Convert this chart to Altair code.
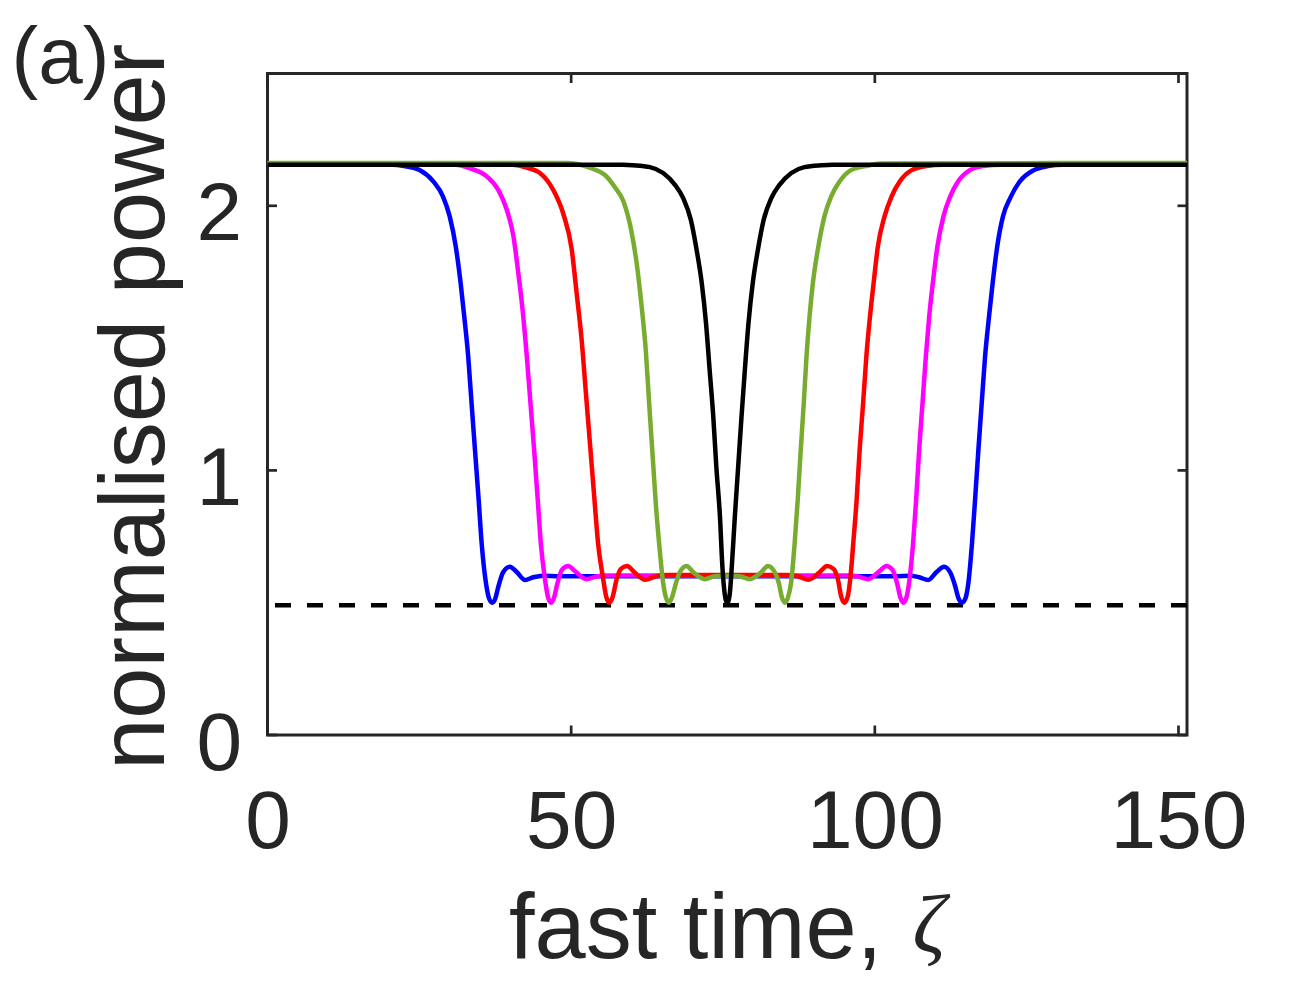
import altair as alt
import pandas as pd

# ---------------- data ----------------
X_MAX = 151.4
Y_MAX = 2.5
x_ticks = [0, 50, 100, 150]
y_ticks = [0, 1, 2]
threshold = [0.49]

blue_x = [0, 20.5, 22.5, 25.1, 27.3, 28.9, 30.0, 31.0, 31.8, 32.4, 33.05, 33.6, 34.16, 34.77,
          35.26, 35.97, 36.5, 37.0, 37.5, 38.0, 38.8, 39.9, 41.0, 42.4, 43.75, 45.4, 48.0,
          60.0, 75.7, 91.0, 103.3, 105.8, 107.3, 108.8, 110.2, 111.4, 112.4, 113.2, 113.8,
          114.35, 114.9, 115.4, 116.0, 116.5, 117.05, 117.6, 118.15, 118.8, 119.4, 120.15,
          121.1, 122.3, 123.8, 126.1, 128.5, 130.9, 151.4]
blue_y = [2.155, 2.155, 2.150, 2.134, 2.092, 2.035, 1.960, 1.846, 1.708, 1.581, 1.430, 1.254, 1.078, 0.888,
          0.725, 0.574, 0.515, 0.500, 0.515, 0.560, 0.615, 0.636, 0.617, 0.586, 0.596, 0.602, 0.600,
          0.600, 0.600, 0.600, 0.600, 0.602, 0.596, 0.586, 0.617, 0.636, 0.615, 0.565, 0.515,
          0.500, 0.515, 0.574, 0.725, 0.888, 1.078, 1.254, 1.430, 1.581, 1.708, 1.846,
          1.960, 2.030, 2.090, 2.134, 2.150, 2.155, 2.155]

magenta_x = [0, 31.0, 33.3, 36.1, 38.0, 39.4, 40.5, 41.3, 42.0, 42.7, 43.3, 43.9, 44.5, 45.0,
             45.7, 46.2, 46.7, 47.2, 47.7, 48.5, 49.5, 50.6, 52.5, 54.0, 55.5, 60.0, 75.7,
             91.5, 95.9, 97.4, 98.9, 100.8, 101.9, 102.9, 103.7, 104.2, 104.7, 105.2, 105.7,
             106.3, 106.8, 107.3, 107.85, 108.4, 108.95, 109.55, 110.3, 111.3, 112.4, 113.7,
             115.6, 117.8, 121.0, 151.4]
magenta_y = [2.155, 2.155, 2.142, 2.111, 2.060, 1.985, 1.884, 1.745, 1.607, 1.430, 1.254, 1.078, 0.888, 0.725,
             0.586, 0.520, 0.500, 0.520, 0.570, 0.625, 0.639, 0.620, 0.589, 0.598, 0.603, 0.603, 0.603,
             0.603, 0.603, 0.598, 0.589, 0.620, 0.639, 0.625, 0.570, 0.520, 0.500, 0.520, 0.586,
             0.725, 0.888, 1.078, 1.254, 1.430, 1.581, 1.708, 1.846, 1.960, 2.035, 2.092,
             2.134, 2.150, 2.155, 2.155]

red_x = [0, 40.3, 42.5, 44.85, 47.05, 48.7, 50.1, 50.9, 51.7, 52.4, 53.1, 53.8, 54.45, 55.2,
         55.8, 56.3, 56.8, 57.5, 58.2, 59.2, 60.4, 62.2, 64.0, 66.0, 75.7, 85.4, 87.3, 89.1,
         90.9, 92.15, 93.2, 93.9, 94.5, 95.0, 95.5, 96.0, 96.45, 97.0, 97.5, 98.07, 98.6,
         99.2, 99.8, 100.5, 101.6, 102.75, 104.1, 106.0, 108.5, 111.2, 151.4]
red_y = [2.155, 2.155, 2.145, 2.124, 2.060, 1.970, 1.834, 1.670, 1.500, 1.300, 1.100, 0.900, 0.720, 0.600,
         0.520, 0.500, 0.520, 0.590, 0.628, 0.639, 0.615, 0.587, 0.600, 0.605, 0.605, 0.605, 0.600, 0.587,
         0.615, 0.639, 0.628, 0.590, 0.520, 0.500, 0.520, 0.600, 0.725, 0.888, 1.078, 1.254, 1.430,
         1.581, 1.708, 1.846, 1.960, 2.035, 2.092, 2.134, 2.150, 2.155, 2.155]

green_x = [0, 49.5, 51.5, 53.5, 55.8, 57.2, 58.6, 59.95, 60.8, 61.6, 62.3, 62.85, 63.4, 63.95,
           64.5, 65.15, 65.6, 66.1, 66.6, 67.25, 68.0, 69.0, 70.1, 72.0, 73.66, 75.7, 77.7,
           79.4, 81.3, 82.4, 83.4, 84.2, 84.7, 85.2, 85.7, 86.2, 86.8, 87.3, 87.8, 88.3, 88.75,
           89.25, 89.8, 90.7, 91.7, 92.8, 94.2, 96.0, 98.5, 101.0, 151.4]
green_y = [2.162, 2.162, 2.155, 2.140, 2.111, 2.070, 2.017, 1.900, 1.780, 1.620, 1.450, 1.250, 1.060, 0.870,
           0.720, 0.574, 0.520, 0.500, 0.520, 0.574, 0.620, 0.639, 0.615, 0.589, 0.600, 0.602, 0.600,
           0.589, 0.615, 0.639, 0.620, 0.574, 0.520, 0.500, 0.520, 0.574, 0.725, 0.888, 1.078, 1.254, 1.430,
           1.581, 1.708, 1.846, 1.960, 2.035, 2.092, 2.134, 2.150, 2.160, 2.162]

black_x = [0, 58.5, 60.2, 62.96, 65.15, 67.1, 68.45, 69.7, 70.65, 71.5, 72.2, 72.8, 73.4, 73.9,
           74.5, 74.9, 75.3, 75.7, 76.1, 76.45, 76.95, 77.5, 78.05, 78.6, 79.2, 79.9, 80.75,
           81.7, 82.95, 84.3, 86.25, 88.4, 91.2, 93.0, 151.4]
black_y = [2.155, 2.155, 2.153, 2.146, 2.124, 2.079, 2.029, 1.947, 1.834, 1.708, 1.557, 1.380, 1.203, 1.014,
           0.825, 0.636, 0.530, 0.495, 0.530, 0.636, 0.825, 1.014, 1.203, 1.380, 1.557, 1.708, 1.834,
           1.947, 2.029, 2.079, 2.124, 2.146, 2.153, 2.155, 2.155]

curves = [
    ("blue", blue_x, blue_y, "#0000FF"),
    ("magenta", magenta_x, magenta_y, "#FF00FF"),
    ("red", red_x, red_y, "#FF0000"),
    ("green", green_x, green_y, "#77AC30"),
    ("black", black_x, black_y, "#000000"),
]

# ---------------- layout ----------------
W = 919.5
H = 661.5
AX = "#262626"
FONT = "Liberation Sans"
TICK_LEN = 9.5
LW = 4.5

xscale = alt.Scale(domain=[0, X_MAX], nice=False, zero=False)
yscale = alt.Scale(domain=[0, Y_MAX], nice=False, zero=False)

x_axis = alt.Axis(
    values=x_ticks, title="fast time,", grid=False, domain=False,
    ticks=True, tickSize=0, tickOpacity=0,
    labelFont=FONT, labelFontSize=82, labelColor=AX, labelPadding=112,
    labelBaseline="alphabetic", labelFlush=False, labelOverlap=False,
    titleFont=FONT, titleFontSize=92, titleColor=AX, titleFontWeight="normal",
    titleX=241, titleY=222, titleAlign="left", titleBaseline="alphabetic",
)
y_axis = alt.Axis(
    values=y_ticks, title="normalised power", grid=False, domain=False,
    ticks=True, tickSize=0, tickOpacity=0,
    labelFont=FONT, labelFontSize=82, labelColor=AX, labelPadding=26,
    labelBaseline="alphabetic", labelOffset=34, labelFlush=False, labelOverlap=False,
    titleFont=FONT, titleFontSize=92, titleColor=AX, titleFontWeight="normal",
    titleX=-104.5, titleY=H / 2 + 2, titleAlign="center", titleBaseline="alphabetic",
    titleAngle=270,
)


def X(field="x"):
    return alt.X(f"{field}:Q", scale=xscale, axis=x_axis)


def Y(field="y"):
    return alt.Y(f"{field}:Q", scale=yscale, axis=y_axis)


layers = []
dash_df = pd.DataFrame({"y": threshold})
layers.append(
    alt.Chart(dash_df).mark_rule(color="#000000", strokeWidth=LW, strokeDash=[16, 16]).encode(
        y=Y(),
    )
)

for name, xs, ys, col in curves:
    df = pd.DataFrame({"x": xs, "y": ys, "i": list(range(len(xs)))})
    layers.append(
        alt.Chart(df).mark_line(color=col, strokeWidth=LW, interpolate="monotone").encode(
            x=X(), y=Y(), order=alt.Order("i:Q"),
        )
    )

xt = pd.DataFrame({"x": x_ticks})
yt = pd.DataFrame({"y": y_ticks})
tick_style = dict(color=AX, strokeWidth=2.7)
layers += [
    alt.Chart(xt).mark_rule(**tick_style).encode(
        x=X(), y=alt.value(H), y2=alt.value(H - TICK_LEN)),
    alt.Chart(xt).mark_rule(**tick_style).encode(
        x=X(), y=alt.value(0), y2=alt.value(TICK_LEN)),
    alt.Chart(yt).mark_rule(**tick_style).encode(
        y=Y(), x=alt.value(0), x2=alt.value(TICK_LEN)),
    alt.Chart(yt).mark_rule(**tick_style).encode(
        y=Y(), x=alt.value(W), x2=alt.value(W - TICK_LEN)),
]

panel = pd.DataFrame({"t": ["(a)"]})
layers.append(
    alt.Chart(panel).mark_text(font=FONT, fontSize=80, color=AX, align="left",
                               baseline="alphabetic").encode(
        text="t:N", x=alt.value(-256), y=alt.value(9))
)
zeta = pd.DataFrame({"t": ["ζ"]})
layers.append(
    alt.Chart(zeta).mark_text(font="Liberation Serif", fontStyle="italic", fontSize=82,
                              color=AX, align="left", baseline="alphabetic").encode(
        text="t:N", x=alt.value(645), y=alt.value(878))
)

chart = alt.layer(*layers).properties(
    width=W, height=H,
    autosize=alt.AutoSizeParams(type="none"),
    padding={"left": 259.5, "top": 65.5, "right": 110, "bottom": 240},
).configure_view(stroke=AX, strokeWidth=3)

chart.save("out.html", embed_options={"renderer": "svg", "actions": False})
